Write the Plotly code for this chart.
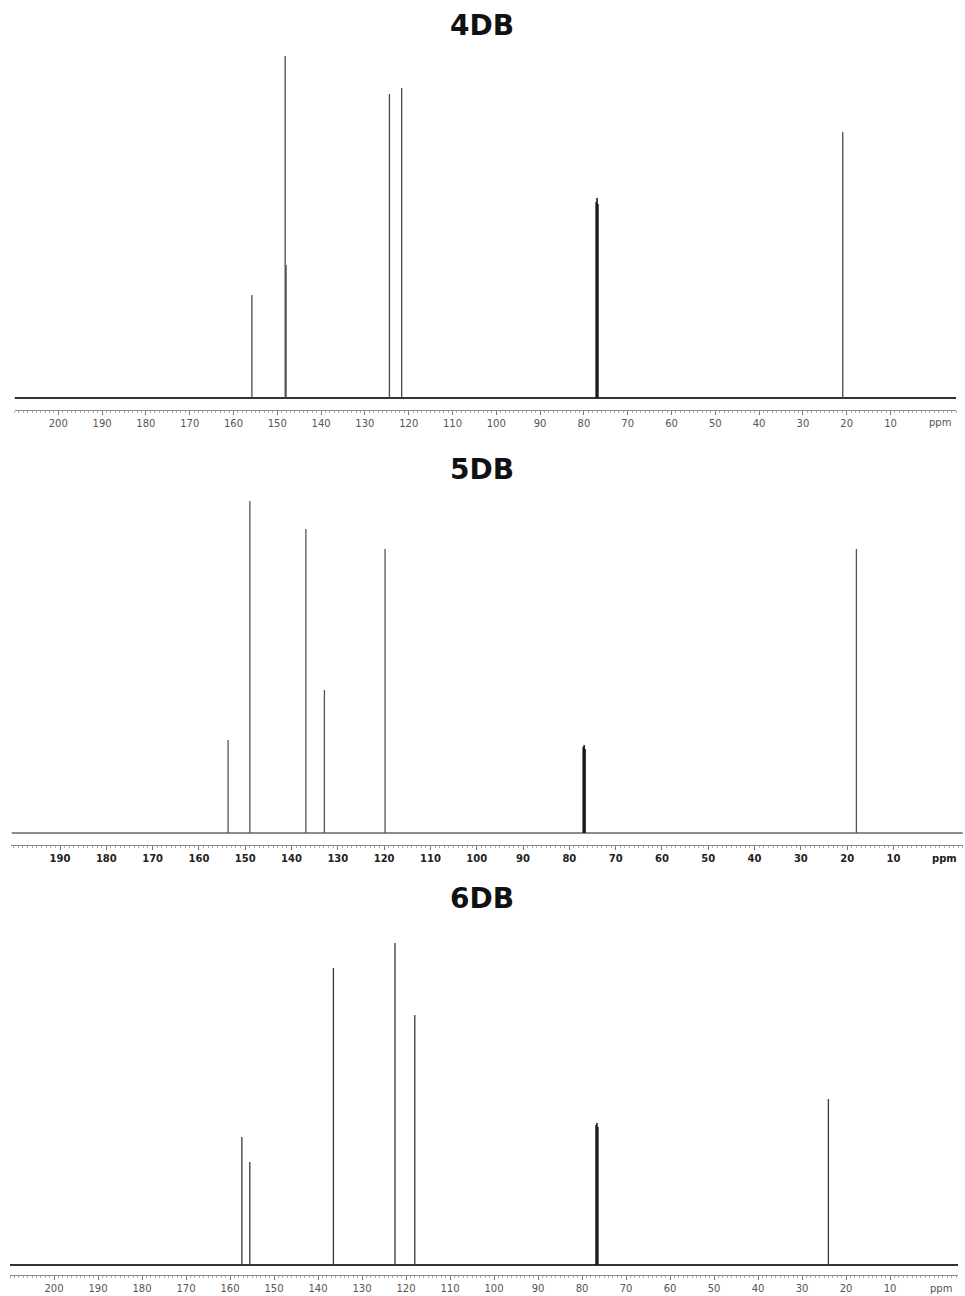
import plotly.graph_objects as go

W, H = 965, 1296

titles = ["4DB", "5DB", "6DB"]

# 13C NMR peaks (ppm) and relative intensities
ppm_4db = [155.8, 148.2, 148.0, 124.4, 121.6, 20.9]
int_4db = [103, 342, 133, 304, 310, 266]
cdcl3_ppm_4db = [77.2, 77.0, 76.8]
cdcl3_int_4db = [196, 200, 194]

ppm_5db = [153.7, 149.0, 136.9, 132.9, 119.8, 18.0]
int_5db = [93, 332, 304, 143, 284, 284]
cdcl3_ppm_5db = [77.0, 76.8, 76.6]
cdcl3_int_5db = [86, 88, 84]

ppm_6db = [157.3, 155.5, 136.5, 122.5, 118.0, 24.0]
int_6db = [128, 103, 297, 322, 250, 166]
cdcl3_ppm_6db = [76.8, 76.6, 76.4]
cdcl3_int_6db = [140, 142, 138]

ticks_4db = [200, 190, 180, 170, 160, 150, 140, 130, 120, 110, 100, 90, 80, 70, 60, 50, 40, 30, 20, 10]
ticks_5db = [190, 180, 170, 160, 150, 140, 130, 120, 110, 100, 90, 80, 70, 60, 50, 40, 30, 20, 10]
ticks_6db = [200, 190, 180, 170, 160, 150, 140, 130, 120, 110, 100, 90, 80, 70, 60, 50, 40, 30, 20, 10]
unit_label = "ppm"

panels = [
    dict(ppm=ppm_4db, inten=int_4db, sp=cdcl3_ppm_4db, si=cdcl3_int_4db, ticks=ticks_4db,
         xpx=(14.5, 956.2), xr=(210, -5), ypx=(50, 410), yr=(-12, 348),
         title_y=25, unit_x=-1.3, lab_y=422, base_w=2.0, base_c="#333333",
         tick_font=dict(family="DejaVu Sans", size=10, color="#555555"),
         peak_c="#4a4a4a"),
    dict(ppm=ppm_5db, inten=int_5db, sp=cdcl3_ppm_5db, si=cdcl3_int_5db, ticks=ticks_5db,
         xpx=(11.4, 962.9), xr=(200.5, -5), ypx=(495, 845), yr=(-12, 338),
         title_y=470, unit_x=-1.1, lab_y=858, base_w=1.3, base_c="#666666",
         tick_font=dict(family="DejaVu Sans", size=10, color="#222222", weight="bold"),
         peak_c="#555555"),
    dict(ppm=ppm_6db, inten=int_6db, sp=cdcl3_ppm_6db, si=cdcl3_int_6db, ticks=ticks_6db,
         xpx=(10, 958.2), xr=(210, -5.5), ypx=(935, 1275), yr=(-10, 330),
         title_y=898, unit_x=-1.6, lab_y=1288, base_w=2.0, base_c="#333333",
         tick_font=dict(family="DejaVu Sans", size=10, color="#555555"),
         peak_c="#3a3a3a"),
]

fig = go.Figure()
layout = dict(width=W, height=H, margin=dict(l=0, r=0, t=0, b=0),
              paper_bgcolor="white", plot_bgcolor="white", showlegend=False,
              annotations=[])

def sticks(xs, ys):
    X, Y = [], []
    for x, y in zip(xs, ys):
        X += [x, x, None]
        Y += [0, y, None]
    return X, Y

for i, p in enumerate(panels):
    n = "" if i == 0 else str(i + 1)
    xa, ya = "x" + n, "y" + n
    # baseline
    fig.add_trace(go.Scatter(x=list(p["xr"]), y=[0, 0], mode="lines", xaxis=xa, yaxis=ya,
                             line=dict(color=p["base_c"], width=p["base_w"]), hoverinfo="skip"))
    X, Y = sticks(p["ppm"], p["inten"])
    fig.add_trace(go.Scatter(x=X, y=Y, mode="lines", xaxis=xa, yaxis=ya,
                             line=dict(color=p["peak_c"], width=1.3), hoverinfo="skip"))
    X, Y = sticks(p["sp"], p["si"])
    fig.add_trace(go.Scatter(x=X, y=Y, mode="lines", xaxis=xa, yaxis=ya,
                             line=dict(color="#1a1a1a", width=1.6), hoverinfo="skip"))
    layout["xaxis" + n] = dict(
        domain=[p["xpx"][0] / W, p["xpx"][1] / W], range=list(p["xr"]), anchor=ya,
        showgrid=False, zeroline=False, showline=True, linecolor="#8a8a8a", linewidth=1,
        tickmode="array", tickvals=p["ticks"], ticktext=[str(t) for t in p["ticks"]],
        ticks="outside", ticklen=4, tickwidth=1, tickcolor="#777777",
        minor=dict(dtick=1, tick0=0, ticks="outside", ticklen=2, tickcolor="#aaaaaa", tickwidth=1),
        tickfont=p["tick_font"], fixedrange=True)
    layout["yaxis" + n] = dict(
        domain=[1 - p["ypx"][1] / H, 1 - p["ypx"][0] / H], range=list(p["yr"]), anchor=xa,
        visible=False, fixedrange=True)
    layout["annotations"].append(dict(
        text="<b>" + titles[i] + "</b>", xref="paper", yref="paper",
        x=482 / W, y=1 - p["title_y"] / H, xanchor="center", yanchor="middle",
        showarrow=False, font=dict(family="DejaVu Sans", size=28, color="#111111")))
    layout["annotations"].append(dict(
        text=unit_label, xref=xa, yref="paper", x=p["unit_x"], y=1 - p["lab_y"] / H,
        xanchor="center", yanchor="middle", showarrow=False, font=p["tick_font"]))

fig.update_layout(**layout)
fig.write_html("out.html")
